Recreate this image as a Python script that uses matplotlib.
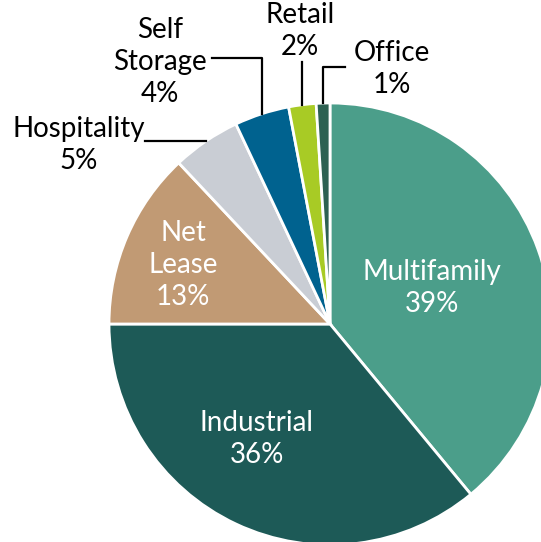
import numpy as np
import matplotlib.pyplot as plt

sectors = ['Multifamily', 'Industrial', 'Net Lease', 'Hospitality', 'Self Storage', 'Retail', 'Office']
shares = [39, 36, 13, 5, 4, 2, 1]
colors = ['#4b9e8a', '#1d5a57', '#c19a74', '#c9cdd4', '#00628f', '#a8cb25', '#2d6152']
inside_labels = ['Multifamily\n39%', 'Industrial\n36%', 'Net\nLease\n13%']

W, H = 541, 542
cx, cy, R = 330, H - 324, 221

fig = plt.figure(figsize=(W / 100, H / 100), dpi=100)
ax = fig.add_axes([0, 0, 1, 1])

font = 'Lato'
fs = 20
ls = 1.3

wedges, _ = ax.pie(shares, colors=colors, startangle=90, counterclock=False,
                   center=(cx, cy), radius=R, frame=True,
                   wedgeprops=dict(edgecolor='white', linewidth=2))
ax.set_xlim(0, W)
ax.set_ylim(0, H)
ax.set_aspect('equal')
ax.axis('off')

# labels inside the three big slices
inside_pos = [(432, H - 288), (257, H - 439), (183, H - 265)]
for txt, (x, y) in zip(inside_labels, inside_pos):
    ax.text(x, y, txt, color='white', fontsize=fs, family=font,
            ha='center', va='center', linespacing=ls)


def edge_point(w):
    a = np.deg2rad((w.theta1 + w.theta2) / 2)
    return cx + R * np.cos(a), cy + R * np.sin(a)


# leader lines for the small slices
hx, hy = edge_point(wedges[3])
ax.plot([hx, 145], [hy, hy], color='black', lw=1.6)
ax.text(79, H - 145, 'Hospitality\n5%', fontsize=fs, family=font,
        ha='center', va='center', linespacing=ls)

sx, sy = edge_point(wedges[4])
ax.plot([sx, sx, 212], [sy, H - 58, H - 58], color='black', lw=1.6)
ax.text(160, H - 62, 'Self\nStorage\n4%', fontsize=fs, family=font,
        ha='center', va='center', linespacing=ls)

rx, ry = edge_point(wedges[5])
ax.plot([rx, rx], [ry, H - 62], color='black', lw=1.6)
ax.text(300, H - 31, 'Retail\n2%', fontsize=fs, family=font,
        ha='center', va='center', linespacing=ls)

ox, oy = edge_point(wedges[6])
ax.plot([ox, ox, 345], [oy, H - 67, H - 67], color='black', lw=1.6)
ax.text(392, H - 69, 'Office\n1%', fontsize=fs, family=font,
        ha='center', va='center', linespacing=ls)

fig.savefig('out.png', dpi=100)
